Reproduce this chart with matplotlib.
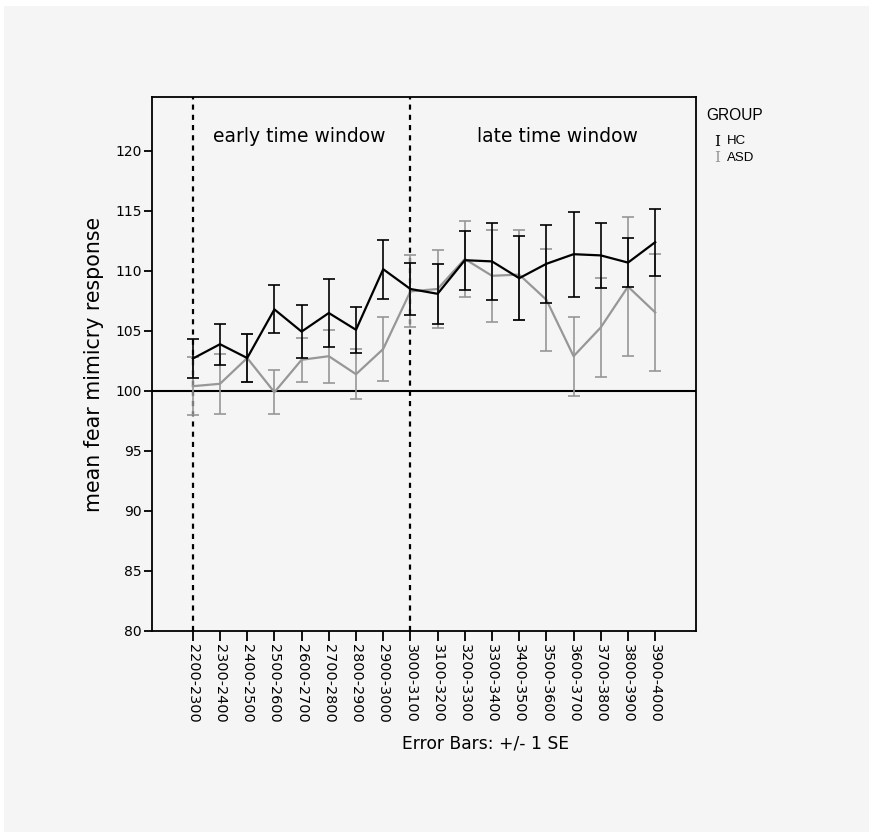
import matplotlib
matplotlib.use("Agg")
import matplotlib.pyplot as plt
from matplotlib.patches import Rectangle

plt.rcParams['font.family'] = ['DejaVu Sans']

categories = ["2200-2300", "2300-2400", "2400-2500", "2500-2600", "2600-2700",
              "2700-2800", "2800-2900", "2900-3000", "3000-3100", "3100-3200",
              "3200-3300", "3300-3400", "3400-3500", "3500-3600", "3600-3700",
              "3700-3800", "3800-3900", "3900-4000"]

hc_mean = [102.7, 103.9, 102.75, 106.8, 104.95, 106.5, 105.1, 110.15, 108.5, 108.1,
           110.9, 110.8, 109.4, 110.6, 111.4, 111.3, 110.7, 112.4]
hc_se = [1.65, 1.7, 2.0, 2.0, 2.2, 2.8, 1.9, 2.45, 2.2, 2.5,
         2.45, 3.2, 3.5, 3.25, 3.55, 2.7, 2.05, 2.8]

asd_mean = [100.4, 100.6, 102.75, 99.9, 102.6, 102.9, 101.4, 103.5, 108.3, 108.5,
            111.0, 109.6, 109.7, 107.6, 102.9, 105.3, 108.7, 106.55]
asd_se = [2.4, 2.5, 2.0, 1.85, 1.85, 2.2, 2.1, 2.65, 3.0, 3.25,
          3.2, 3.85, 3.75, 4.25, 3.3, 4.1, 5.8, 4.85]

yticks = [80, 85, 90, 95, 100, 105, 110, 115, 120]

W, H = 869, 832
fig = plt.figure(figsize=(W / 100, H / 100), dpi=100, facecolor='white')
fig.patches.append(Rectangle((4 / W, 0), 1, 1 - 6 / H, transform=fig.transFigure,
                             facecolor='#f5f5f5', edgecolor='none', zorder=-10))

ax = fig.add_axes([152 / W, 1 - 631 / H, (696 - 152) / W, (631 - 97) / H])
ax.set_facecolor('#f5f5f5')

x = list(range(len(categories)))
grey = '#979797'

ax.errorbar(x, asd_mean, yerr=asd_se, color=grey, lw=1.6, elinewidth=1.2,
            capsize=4.2, capthick=1.2, zorder=3)
ax.errorbar(x, hc_mean, yerr=hc_se, color='black', lw=1.6, elinewidth=1.2,
            capsize=4.2, capthick=1.2, zorder=4)

ax.axhline(100, color='black', lw=1.5, zorder=2)
for xv in (0, 8):
    ax.axvline(xv, color='black', lw=1.6, linestyle=(0, (2.3, 2.3)), zorder=2)

ax.set_xlim(-1.5, 18.5)
ax.set_ylim(80, 124.5)
ax.set_yticks(yticks)
ax.set_yticklabels([str(v) for v in yticks], fontsize=10)
ax.set_xticks(x)
ax.set_xticklabels(categories, rotation=270, fontsize=10.4, va='top', ha='center')
ax.tick_params(axis='y', length=6, width=1.3, pad=1.5, direction='out')
ax.tick_params(axis='x', length=7, width=1.3, pad=2, direction='out')
for s in ax.spines.values():
    s.set_linewidth(1.3)

ax.set_ylabel("mean fear mimicry response", fontsize=14.8, labelpad=8)

ax.text(3.9, 121.2, "early time window", fontsize=13.5, ha='center', va='center')
ax.text(13.4, 121.2, "late time window", fontsize=13.5, ha='center', va='center')

fig.text(486 / W, 1 - 744 / H, "Error Bars: +/- 1 SE", fontsize=12.3, ha='center', va='center')

fig.text(706 / W, 1 - 115 / H, "GROUP", fontsize=11.2, ha='left', va='center',
         family=['Liberation Sans'])
fig.text(717 / W, 1 - 141.5 / H, "I", fontsize=11, ha='center', va='center',
         family=['DejaVu Serif'], color='black')
fig.text(717 / W, 1 - 158 / H, "I", fontsize=11, ha='center', va='center',
         family=['DejaVu Serif'], color=grey)
fig.text(727 / W, 1 - 141.5 / H, "HC", fontsize=9.5, ha='left', va='center',
         family=['Liberation Sans'])
fig.text(727 / W, 1 - 158 / H, "ASD", fontsize=9.5, ha='left', va='center',
         family=['Liberation Sans'])

fig.savefig("out.png", dpi=100, facecolor=fig.get_facecolor())
